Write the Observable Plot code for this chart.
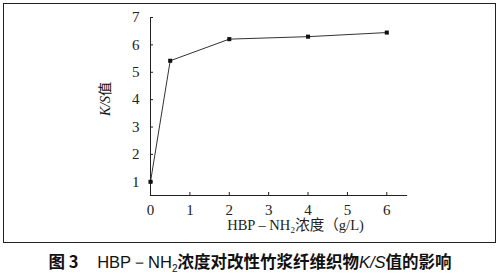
<!DOCTYPE html>
<html><head><meta charset="utf-8">
<script src="https://cdn.jsdelivr.net/npm/d3@7"></script>
<script src="https://cdn.jsdelivr.net/npm/@observablehq/plot@0.6"></script>
<style>
html,body{margin:0;padding:0;background:#fff;}
#wrap{position:relative;width:500px;height:275px;overflow:hidden;}
#frame{position:absolute;left:3px;top:3px;width:491px;height:238px;border:1.5px solid #222;box-sizing:content-box;}
#chart{position:absolute;left:0;top:0;}
#cap{position:absolute;left:0;top:251px;width:500px;text-align:center;font-family:"Noto Sans CJK SC","Liberation Sans",sans-serif;font-weight:bold;font-size:16.5px;line-height:21px;color:#111;white-space:pre;}
</style></head><body>
<div id="wrap"><div id="frame"></div><div id="chart"></div>
<div id="cap"><span>图 3</span>     <span style="font-family:'Liberation Sans';font-weight:normal">HBP－NH<sub style="font-size:10px;line-height:0">2</sub></span>浓度对改性竹浆纤维织物<i style="font-family:'Liberation Sans';font-weight:normal">K/S</i>值的影响</div>
</div>
<script>
const conc = [0, 0.5, 2, 4, 6];
const ks = [1.0, 5.42, 6.21, 6.3, 6.45];
const xTicks = [0, 1, 2, 3, 4, 5, 6];
const yTicks = [1, 2, 3, 4, 5, 6, 7];
const xLabel = "HBP – NH₂浓度（g/L)";
const serif = "'Liberation Serif', 'Times New Roman', serif";

const data = conc.map((c, i) => ({c, v: ks[i]}));
const chart = Plot.plot({
  width: 500, height: 245,
  marginLeft: 150, marginRight: 94, marginTop: 17, marginBottom: 50,
  style: {fontFamily: serif, fontSize: "14px", color: "#222", background: "transparent"},
  x: {domain: [0, 6.5]},
  y: {domain: [0.5, 7]},
  marks: [
    Plot.axisX({ticks: xTicks, tickFormat: d3.format("d"), tickSize: -3, tickPadding: 12, label: null, fontSize: 15, fontFamily: serif}),
    Plot.axisY({ticks: yTicks, tickFormat: d3.format("d"), tickSize: -3, tickPadding: 14, label: null, fontSize: 15, fontFamily: serif}),
    Plot.frame({anchor: "bottom", stroke: "#222", strokeWidth: 1.2}),
    Plot.frame({anchor: "left", stroke: "#222", strokeWidth: 1}),
    Plot.line(data, {x: "c", y: "v", stroke: "#333", strokeWidth: 1}),
    Plot.dot(data, {x: "c", y: "v", symbol: "square", r: 2.3, fill: "#111"}),
    Plot.text([xLabel], {frameAnchor: "bottom", lineAnchor: "middle", dx: 17, dy: 30, fontSize: 14.5, fill: "#222",
      fontFamily: "'Liberation Serif','Noto Sans CJK SC',serif"})
  ]
});
document.getElementById("chart").appendChild(chart);
// y-axis label with italic K/S
const svg = d3.select(chart);
const t = svg.append("text")
  .attr("transform", "translate(110,99) rotate(-90)")
  .attr("text-anchor", "middle")
  .attr("font-size", 14)
  .style("fill", "#111");
t.append("tspan").attr("font-family", serif).attr("font-style", "italic").text("K/S");
t.append("tspan").attr("font-family", "'Noto Sans CJK SC'").text("值");
</script>
</body></html>
